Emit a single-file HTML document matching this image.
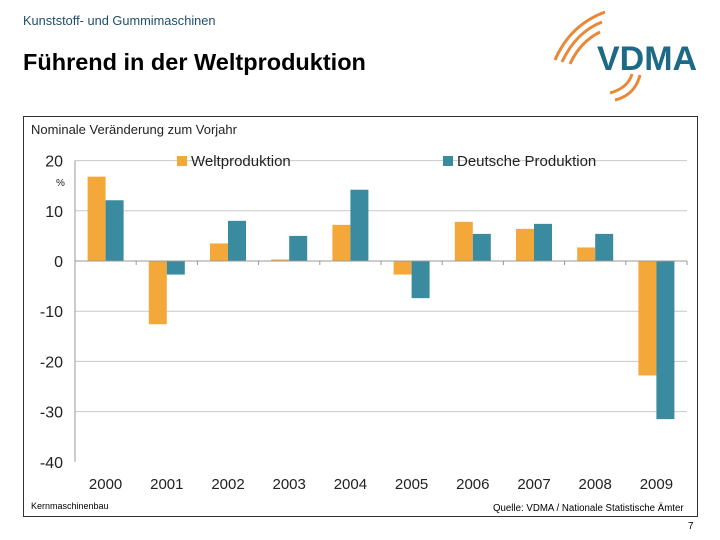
<!DOCTYPE html>
<html><head><meta charset="utf-8"><style>
body{margin:0;width:720px;height:540px;background:#fff;font-family:"Liberation Sans",sans-serif;position:relative;overflow:hidden}
.t{position:absolute;white-space:nowrap}
</style></head><body>
<div class="t" style="left:23px;top:13px;font-size:12.8px;color:#1f4e6a">Kunststoff- und Gummimaschinen</div>
<div class="t" style="left:23px;top:49px;font-size:23.5px;font-weight:bold;color:#000">Führend in der Weltproduktion</div>
<svg style="position:absolute;left:540px;top:0" width="180" height="110">
<g fill="none" stroke="#e8893a" stroke-width="3">
<path d="M15 60 Q30 25 65 12"/><path d="M22 62 Q36 32 62 22"/><path d="M30 64 Q40 42 60 32"/>
<path d="M75 100 Q95 95 100 75"/><path d="M70 93 Q88 88 92 74"/>
</g>
<text x="57" y="70" font-size="34" font-weight="bold" fill="#1e6a86" font-family="Liberation Sans">VDMA</text>
</svg>
<div style="position:absolute;left:23px;top:116px;width:673px;height:399px;border:1px solid #333"></div>
<div class="t" style="left:31px;top:122px;font-size:13px;color:#222">Nominale Veränderung zum Vorjahr</div>
<svg id="c" style="position:absolute;left:0;top:0" width="720" height="540"></svg>
<div class="t" style="left:31px;top:501px;font-size:9px">Kernmaschinenbau</div>
<div class="t" style="left:493px;top:503px;font-size:9.7px">Quelle: VDMA / Nationale Statistische Ämter</div>
<div class="t" style="left:688px;top:521px;font-size:10px">7</div>
<script>
const categories=["2000","2001","2002","2003","2004","2005","2006","2007","2008","2009"];
const welt=[16.8,-12.6,3.5,0.3,7.2,-2.7,7.8,6.4,2.7,-22.8];
const deutsch=[12.1,-2.7,8.0,5.0,14.2,-7.4,5.4,7.4,5.4,-31.5];
const yTicks=[20,10,0,-10,-20,-30,-40];
const NS="http://www.w3.org/2000/svg",svg=document.getElementById('c');
const x0=75,x1=687,gw=(x1-x0)/categories.length;
const y=v=>261-v*5.02;
function mk(t,a,p){const e=document.createElementNS(NS,t);for(const k in a)e.setAttribute(k,a[k]);(p||svg).appendChild(e);return e;}
yTicks.forEach(v=>{
 if(v!==0&&v!==-40){const g=mk('line',{x1:x0,x2:x1,y1:y(v),y2:y(v),stroke:'#c8c8c8'});
 
 }
 const t=mk('text',{x:63,y:y(v)+6,'text-anchor':'end','font-size':16,fill:'#222'});t.textContent=v;
 
 
});
const ax=mk('line',{x1:x0,x2:x0,y1:y(20),y2:y(-40),stroke:'#999'});


const pc=mk('text',{x:56,y:186,'font-size':10,fill:'#222'});pc.textContent='%';


categories.forEach((c,i)=>{
 const cx=x0+gw*(i+0.5);
 [[welt[i],'#f5a83a',cx-18,'bar-welt'],[deutsch[i],'#3a8aa0',cx,'bar-deutsch']].forEach(([v,col,bx,nm])=>{
  const r=mk('rect',{x:bx,width:18,y:Math.min(y(v),y(0)),height:Math.abs(y(v)-y(0)),fill:col});
  
  
 });
 const t=mk('text',{x:cx,y:489,'text-anchor':'middle','font-size':15,fill:'#222'});t.textContent=c;
 
 
 const tk=mk('line',{x1:x0+gw*(i+1),x2:x0+gw*(i+1),y1:y(0),y2:y(0)+4,stroke:'#999'});
 
 
});
const zl=mk('line',{x1:x0,x2:x1,y1:y(0),y2:y(0),stroke:'#999'});


[['Weltproduktion','#f5a83a',177],['Deutsche Produktion','#3a8aa0',443]].forEach(([n,col,lx])=>{
 const g=mk('g',{});
 
 
 mk('rect',{x:lx,y:156,width:10,height:10,fill:col},g);
 const t=mk('text',{x:lx+14,y:166,'font-size':15,fill:'#222'},g);t.textContent=n;
});
</script>
</body></html>
